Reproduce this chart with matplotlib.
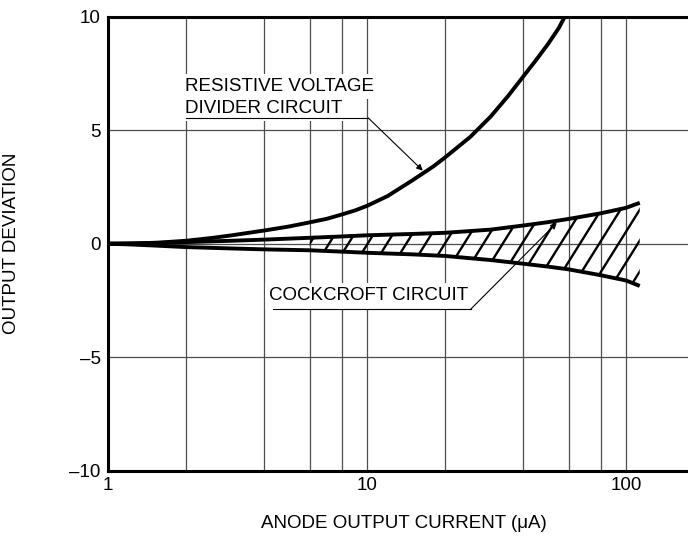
import matplotlib

matplotlib.use("Agg")
import matplotlib.pyplot as plt
import numpy as np
from matplotlib.patches import Polygon
from matplotlib.ticker import NullFormatter

plt.rcParams["font.family"] = ["Liberation Sans", "DejaVu Sans"]
plt.rcParams["font.size"] = 13.5

# values: x = anode current (uA), y = output deviation
RES_X = [1, 1.26, 1.58, 2, 2.5, 3, 4, 5, 6, 7, 8, 9, 10, 12, 15, 18, 20, 25, 30, 35, 40, 45, 50, 55, 58]
RES_Y = [0, 0.01, 0.05, 0.13, 0.25, 0.37, 0.58, 0.76, 0.94, 1.1, 1.29, 1.47, 1.67, 2.1, 2.8, 3.4, 3.8, 4.7, 5.6, 6.5, 7.35, 8.1, 8.8, 9.5, 10.0]

CW_X = [1, 1.2, 1.5, 2, 3, 4, 6, 8, 10, 15, 20, 30, 40, 50, 60, 80, 100, 113]
CW_UPPER = [0, 0.01, 0.03, 0.07, 0.13, 0.18, 0.26, 0.32, 0.37, 0.43, 0.48, 0.62, 0.8, 0.95, 1.09, 1.34, 1.58, 1.8]
CW_LOWER = [0, -0.03, -0.08, -0.15, -0.21, -0.25, -0.29, -0.35, -0.4, -0.47, -0.54, -0.72, -0.88, -1.01, -1.13, -1.39, -1.62, -1.86]
HATCH_FROM = 6

X_TICKS = [1, 10, 100]
X_TICK_LABELS = ["1", "10", "100"]
X_GRID = [2, 4, 6, 8, 20, 40, 60, 80]
Y_TICKS = [-10, -5, 0, 5, 10]
Y_TICK_LABELS = ["\u201310", "\u20135", "0", "5", "10"]

# label / leader positions in data coords
RES_LABEL = (1.97, 6.74, 5.75)        # x, baseline line 1, baseline line 2
RES_LEADER = (1.99, 10.1, 5.54)       # underline x from, x to, y
RES_TIP = (16.4, 3.22)
CW_LABEL = (4.17, -2.50)
CW_LEADER = (4.31, 25.1, -2.89)
CW_TIP = (54, 0.92)


def hatch_band(ax, x, upper, lower, x_from, spacing_px=19.3, slope=1.6, lw=1.7):
    """Diagonal hatching between two curves, clipped to the band."""
    idx = [i for i, v in enumerate(x) if v >= x_from]
    xs = [x[i] for i in idx]
    verts = list(zip(xs, [upper[i] for i in idx])) + list(zip(xs[::-1], [lower[i] for i in idx][::-1]))
    band = Polygon(verts, closed=True, facecolor="none", edgecolor="none")
    ax.add_patch(band)
    bb = ax.get_window_extent()
    w, h = bb.width, bb.height
    to_axes = ax.transAxes.inverted()
    x0, yc = to_axes.transform(ax.transData.transform((x_from, 0)))
    x1 = to_axes.transform(ax.transData.transform((x[-1], 0)))[0]
    dy = 0.12
    dx = dy * h / slope / w
    step = spacing_px / w
    for xc in np.arange(x0, x1 + dx + step, step):
        ln, = ax.plot([xc - dx, xc + dx], [yc - dy, yc + dy], color="black", lw=lw,
                      transform=ax.transAxes, solid_capstyle="butt", zorder=2)
        ln.set_clip_path(band)


fig = plt.figure(figsize=(6.88, 5.44), dpi=100)
ax = fig.add_axes([108.3 / 688, 1 - 470.7 / 544, 1 - 108.3 / 688, (470.7 - 16.7) / 544])
ax.set_xscale("log")
ax.set_xlim(1, 10 ** ((688 - 108.3) / 258.85))
ax.set_ylim(-10, 10)

ax.set_xticks(X_TICKS, labels=X_TICK_LABELS)
ax.set_xticks(X_GRID, minor=True)
ax.xaxis.set_minor_formatter(NullFormatter())
ax.set_yticks(Y_TICKS, labels=Y_TICK_LABELS)
ax.tick_params(which="both", length=0)
ax.tick_params(axis="x", pad=4.5)
ax.tick_params(axis="y", pad=5.5)
ax.set_axisbelow(True)
ax.grid(True, which="both", color="0.3", lw=0.9)

for side in ["left", "top", "bottom"]:
    ax.spines[side].set_linewidth(2.2)
ax.spines["right"].set_visible(False)

ax.plot(RES_X, RES_Y, color="black", lw=2.8, solid_capstyle="butt", zorder=4)
ax.plot(CW_X, CW_UPPER, color="black", lw=2.8, solid_capstyle="butt", zorder=4)
ax.plot(CW_X, CW_LOWER, color="black", lw=2.8, solid_capstyle="butt", zorder=4)
hatch_band(ax, CW_X, CW_UPPER, CW_LOWER, HATCH_FROM)

box = dict(facecolor="white", edgecolor="none", pad=3)
ax.text(RES_LABEL[0], RES_LABEL[1], "RESISTIVE VOLTAGE", va="baseline", bbox=box, zorder=3)
ax.text(RES_LABEL[0], RES_LABEL[2], "DIVIDER CIRCUIT", va="baseline", bbox=box, zorder=3)
ax.text(CW_LABEL[0], CW_LABEL[1], "COCKCROFT CIRCUIT", va="baseline", bbox=box, zorder=3)

arrow = dict(arrowstyle="-|>", color="black", lw=0.8, mutation_scale=9, shrinkA=0, shrinkB=0)
for (xa, xb, yl), tip in [(RES_LEADER, RES_TIP), (CW_LEADER, CW_TIP)]:
    ax.plot([xa, xb], [yl, yl], color="black", lw=0.8, zorder=5)
    ax.annotate("", xy=tip, xytext=(xb, yl), arrowprops=arrow, zorder=5)

fig.text(12 / 688, 0.552, "OUTPUT DEVIATION", rotation=90, ha="center", va="center")
fig.text(403.7 / 688, 1 - 523 / 544, "ANODE OUTPUT CURRENT (\u03bcA)", ha="center", va="center")

fig.savefig("out.png", dpi=100)
